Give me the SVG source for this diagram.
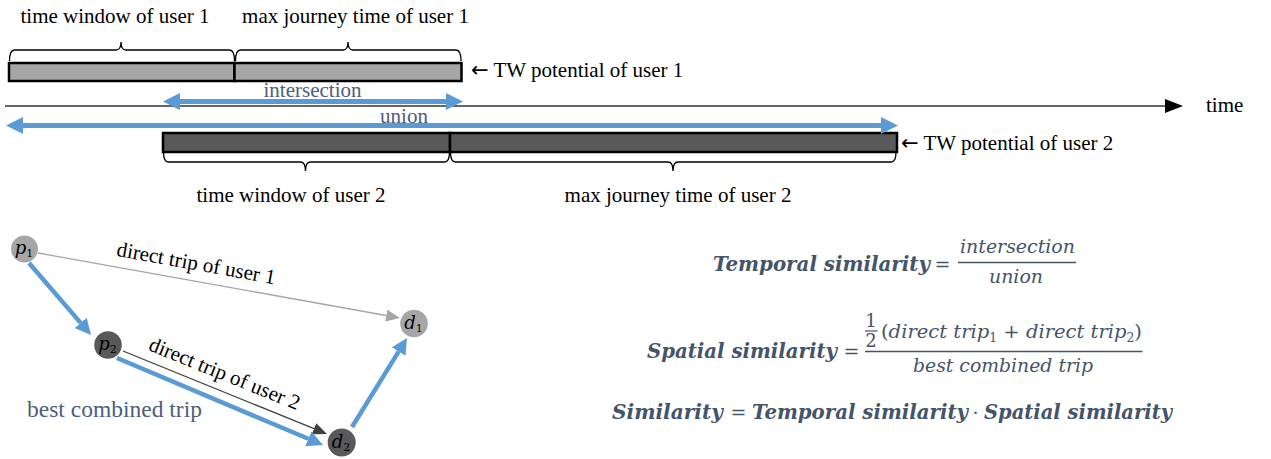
<svg xmlns="http://www.w3.org/2000/svg" width="1271" height="459" viewBox="0 0 1271 459">
<defs>
<style>
.t{font-family:"Liberation Serif","Times New Roman",serif;font-size:21px;fill:#000}
.arr{font-family:"DejaVu Sans",sans-serif;font-size:21px}
.slate{fill:#4d5e7c}
.brace{fill:none;stroke:#000;stroke-width:1.3}
.bar1{fill:#a6a6a6;stroke:#000;stroke-width:2.5}
.bar2{fill:#595959;stroke:#000;stroke-width:2.5}
.fb{font-family:"DejaVu Serif",serif;font-style:italic;font-weight:bold;font-size:20px;fill:#44546a}
.fi{font-family:"DejaVu Serif",serif;font-style:italic;font-size:19px;fill:#44546a}
.fr{font-family:"DejaVu Serif",serif;font-size:19px;fill:#44546a}
.up{font-style:normal;font-weight:normal}
.light{fill:#a6a6a6}
.dark{fill:#595959}
.nl{font-family:"DejaVu Serif",serif;font-style:italic;font-size:18px;fill:#000}
.sub{font-style:normal;font-size:11px}
.blue{stroke:#5b9bd5;stroke-width:4.5;fill:none}
.bluet{stroke:#5b9bd5;stroke-width:5;fill:none}
.fline{stroke:#44546a;stroke-width:1.6}
</style>
<marker id="bh" markerUnits="userSpaceOnUse" markerWidth="17" markerHeight="17" refX="0" refY="8.5" orient="auto-start-reverse"><path d="M0,0 L17,8.5 L0,17 z" fill="#5b9bd5"/></marker>
<marker id="ba" markerUnits="userSpaceOnUse" markerWidth="16" markerHeight="16" refX="0" refY="8" orient="auto"><path d="M0,0 L16,8 L0,16 z" fill="#5b9bd5"/></marker>
<marker id="ga" markerUnits="userSpaceOnUse" markerWidth="14" markerHeight="12" refX="0" refY="6" orient="auto"><path d="M0,0 L14,6 L0,12 z" fill="#a6a6a6"/></marker>
<marker id="da" markerUnits="userSpaceOnUse" markerWidth="14" markerHeight="12" refX="0" refY="6" orient="auto"><path d="M0,0 L14,6 L0,12 z" fill="#404040"/></marker>
<marker id="ax" markerUnits="userSpaceOnUse" markerWidth="18" markerHeight="14" refX="0" refY="7" orient="auto"><path d="M0,0 L18,7 L0,14 z" fill="#000"/></marker>
</defs>
<rect width="1271" height="459" fill="#fff"/>

<g id="user1-timeline">
<text class="t" x="115" y="23" text-anchor="middle">time window of user 1</text>
<text class="t" x="355.5" y="23" text-anchor="middle">max journey time of user 1</text>
<path class="brace" d="M9.5,61 Q9.5,50 14.5,50 L116,50 Q121,50 121,42 Q121,50 126,50 L229.5,50 Q234.5,50 234.5,61"/>
<path class="brace" d="M235.5,61 Q235.5,50 240.5,50 L343,50 Q348,50 348,42 Q348,50 353,50 L456,50 Q461,50 461,61"/>
<rect class="bar1" x="9" y="63" width="225.5" height="18"/>
<rect class="bar1" x="234.5" y="63" width="227" height="18"/>
<text class="t" x="471" y="77"><tspan class="arr">←</tspan> TW potential of user 1</text>
</g>

<g id="time-axis">
<line x1="5" y1="106" x2="1165" y2="106" stroke="#333" stroke-width="1.5" marker-end="url(#ax)"/>
<text class="t" x="1206" y="112">time</text>
</g>

<g id="user2-timeline">
<rect class="bar2" x="163" y="133" width="287" height="19"/>
<rect class="bar2" x="450" y="133" width="447" height="19"/>
<path class="brace" d="M163.5,152 Q163.5,162 168.5,162 L300.5,162 Q305.5,162 305.5,171 Q305.5,162 310.5,162 L444.5,162 Q449.5,162 449.5,152"/>
<path class="brace" d="M450.5,152 Q450.5,162 455.5,162 L668,162 Q673,162 673,171 Q673,162 678,162 L891,162 Q896,162 896,152"/>
<text class="t" x="291" y="202" text-anchor="middle">time window of user 2</text>
<text class="t" x="678" y="202" text-anchor="middle">max journey time of user 2</text>
<text class="t" x="901" y="150"><tspan class="arr">←</tspan> TW potential of user 2</text>
</g>

<g id="overlap-arrows">
<line class="bluet" x1="180" y1="101.5" x2="446" y2="101.5" marker-start="url(#bh)" marker-end="url(#bh)"/>
<text class="t slate" x="312.5" y="97" text-anchor="middle">intersection</text>
<line class="bluet" x1="23" y1="125.5" x2="881" y2="125.5" marker-start="url(#bh)" marker-end="url(#bh)"/>
<text class="t slate" x="404" y="122.5" text-anchor="middle">union</text>
</g>

<g id="connectors">
<line x1="38" y1="253" x2="386.2" y2="315.5" stroke="#a6a6a6" stroke-width="1.3" marker-end="url(#ga)"/>
<line x1="123" y1="351" x2="314" y2="428.7" stroke="#404040" stroke-width="1.3" marker-end="url(#da)"/>
<line class="blue" x1="29" y1="263" x2="80.6" y2="322.9" marker-end="url(#ba)"/>
<line class="blue" x1="117" y1="358" x2="308.3" y2="438.8" marker-end="url(#ba)"/>
<line class="blue" x1="352" y1="427" x2="398.6" y2="351.6" marker-end="url(#ba)"/>
<text class="t" transform="translate(195,270) rotate(10.2)" text-anchor="middle">direct trip of user 1</text>
<text class="t" transform="translate(222,380) rotate(22)" text-anchor="middle">direct trip of user 2</text>
<text class="t slate" x="27" y="417" style="font-size:23.5px">best combined trip</text>
</g>

<g id="p1">
<circle class="light" cx="24.5" cy="249" r="13.5"/>
<text class="nl" x="24" y="254" text-anchor="middle">p<tspan class="sub" dy="3">1</tspan></text>
</g>
<g id="p2">
<circle class="dark" cx="108" cy="345" r="13.8"/>
<text class="nl" x="107.5" y="350" text-anchor="middle">p<tspan class="sub" dy="3">2</tspan></text>
</g>
<g id="d1">
<circle class="light" cx="414" cy="323.5" r="13.8"/>
<text class="nl" x="413.5" y="329" text-anchor="middle">d<tspan class="sub" dy="3">1</tspan></text>
</g>
<g id="d2">
<circle class="dark" cx="341.7" cy="442.5" r="14"/>
<text class="nl" x="341" y="448" text-anchor="middle">d<tspan class="sub" dy="3">2</tspan></text>
</g>

<g id="formula-temporal">
<text class="fb" x="713" y="270.5" textLength="217" lengthAdjust="spacingAndGlyphs">Temporal similarity</text>
<text class="fr" x="942.5" y="270.5" text-anchor="middle">=</text>
<text class="fi" x="960" y="253" textLength="115" lengthAdjust="spacingAndGlyphs">intersection</text>
<line class="fline" x1="958" y1="262.5" x2="1076" y2="262.5"/>
<text class="fi" x="989" y="283" textLength="54" lengthAdjust="spacingAndGlyphs">union</text>
</g>

<g id="formula-spatial">
<text class="fb" x="647" y="358" textLength="190" lengthAdjust="spacingAndGlyphs">Spatial similarity</text>
<text class="fr" x="851.5" y="358" text-anchor="middle">=</text>
<text class="fr" x="871" y="327" text-anchor="middle" style="font-size:18px">1</text>
<line class="fline" x1="865" y1="331" x2="877.5" y2="331" style="stroke-width:1.2"/>
<text class="fr" x="871" y="347" text-anchor="middle" style="font-size:18px">2</text>
<text class="fi" x="881" y="338" textLength="261" lengthAdjust="spacingAndGlyphs"><tspan class="up">(</tspan>direct trip<tspan class="up" font-size="12" dy="4">1</tspan><tspan class="up" dy="-4"> + </tspan>direct trip<tspan class="up" font-size="12" dy="4">2</tspan><tspan class="up" dy="-4">)</tspan></text>
<line class="fline" x1="865" y1="351.5" x2="1142.5" y2="351.5"/>
<text class="fi" x="913" y="371.5" textLength="180" lengthAdjust="spacingAndGlyphs">best combined trip</text>
</g>

<g id="formula-similarity">
<text class="fb" x="612" y="418.5" textLength="111" lengthAdjust="spacingAndGlyphs">Similarity</text>
<text class="fr" x="738.5" y="418.5" text-anchor="middle">=</text>
<text class="fb" x="752" y="418.5" textLength="216" lengthAdjust="spacingAndGlyphs">Temporal similarity</text>
<text class="fr" x="975.5" y="418.5" text-anchor="middle">·</text>
<text class="fb" x="984" y="418.5" textLength="188" lengthAdjust="spacingAndGlyphs">Spatial similarity</text>
</g>
</svg>
